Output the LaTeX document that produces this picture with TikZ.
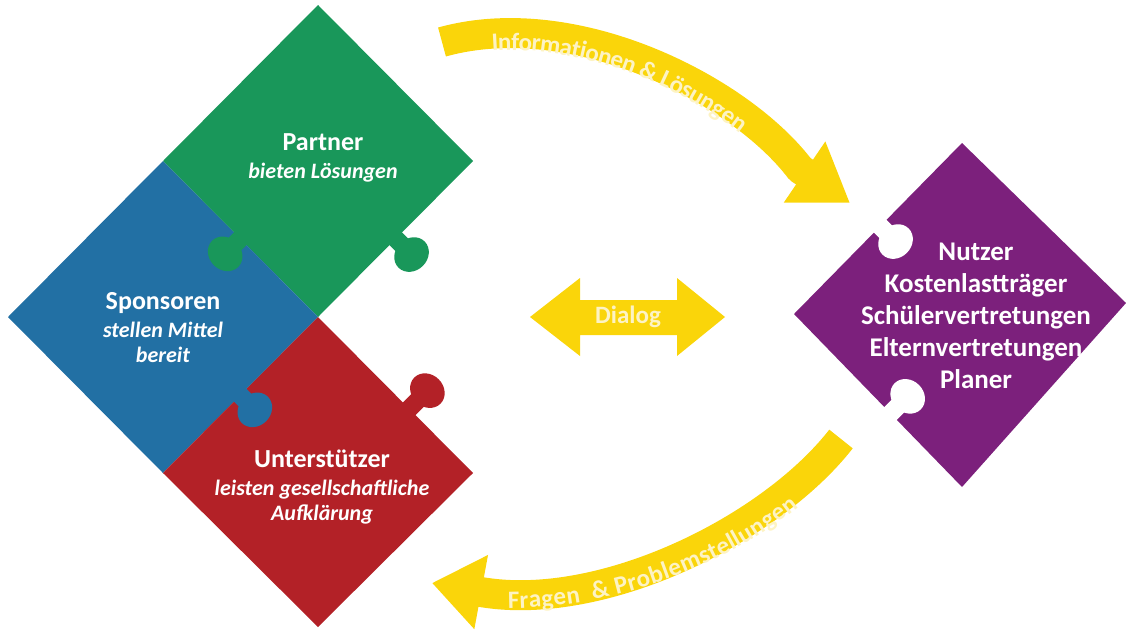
\documentclass[tikz,border=0pt]{standalone}
\usepackage{fontspec}
\setmainfont{Carlito}
\usepackage{xcolor}
\usepackage{tikz}
\usetikzlibrary{positioning}
\usetikzlibrary{arrows.meta, decorations.text}

\definecolor{partnergreen}{RGB}{25,151,90}
\definecolor{sponsorblue}{RGB}{34,112,164}
\definecolor{helperred}{RGB}{179,33,39}
\definecolor{userpurple}{RGB}{124,32,124}
\definecolor{arrowyellow}{RGB}{250,213,10}
\definecolor{arrowtext}{RGB}{253,243,196}

\newcommand{\arrowfont}{\bfseries\fontsize{25}{25}\selectfont}
% knob of a puzzle piece: edge point, direction, colour, distance of the head
\newcommand{\knob}[4]{%
  \begin{scope}[shift={#1}, rotate=#2]
    \fill[#3] (-3pt,-9pt) rectangle (#4pt-8pt,9pt);
    \fill[#3] (#4pt,0) ellipse [x radius=16pt, y radius=18.5pt];
  \end{scope}}

\begin{document}
\begin{tikzpicture}[x=1pt, y=-1pt, title/.style={text=white, font=\bfseries\fontsize{22}{25}\selectfont, align=center, inner sep=0pt}, usertext/.style={text=white, font=\bfseries\fontsize{27}{32}\selectfont, align=center, inner sep=0pt}, bigarrow/.style={arrowyellow, line width=30pt, line join=round}, arrowlabel/.style={decorate, decoration={text along path, text color=arrowtext, raise=-17pt}}]

    \useasboundingbox (0,0) rectangle (1126,629);

    %Puzzle pieces
    \fill[partnergreen] (318,5) -- (473,161) -- (318,317) -- (163,161) -- cycle;
    \fill[sponsorblue] (163,161) -- (318,317) -- (163,473) -- (8,317) -- cycle;
    \fill[helperred] (318,317) -- (473,473) -- (318,627) -- (163,473) -- cycle;
    \knob{(240,239)}{225}{partnergreen}{21}
    \knob{(396,239)}{-45}{partnergreen}{22}
    \knob{(240,395)}{-45}{sponsorblue}{21}
    \knob{(409,409)}{45}{helperred}{26}
    \fill[userpurple] (962,143) -- (1126,303) -- (962,487) -- (794,314) -- cycle;
    \knob{(880,226)}{-45}{white}{22}
    \knob{(890,414)}{45}{white}{25}

    %Nodes
    \node[title](partner) at (323,158) {{\fontsize{26}{26}\selectfont Partner}\\[3pt]\textit{bieten Lösungen}};
    \node[title](sponsoren) at (163,328) {{\fontsize{26}{26}\selectfont Sponsoren}\\[3pt]\textit{stellen Mittel}\\\textit{bereit}};
    \node[title](unterstuetzer) at (322,487) {{\fontsize{26}{26}\selectfont Unterstützer}\\[3pt]\textit{leisten gesellschaftliche}\\\textit{Aufklärung}};
    \node[usertext](nutzer) at (976,316) {Nutzer\\Kostenlastträger\\Schülervertretungen\\Elternvertretungen\\Planer};

    %Arrows
    \coordinate (infoTail) at (442,42);
    \coordinate (infoBase) at (800,169);
    \coordinate (infoTip) at (850,203);
    \coordinate (fragenTail) at (841,439);
    \coordinate (fragenTip) at (432,583);
    \draw[bigarrow, -{Triangle[length=55pt, width=70pt]}] (infoTail) .. controls (575,5) and (740,90) .. (infoBase) -- (infoTip);
    \draw[bigarrow, -{Triangle[length=50pt, width=72pt]}] (fragenTail) .. controls (770,530) and (600,614) .. (fragenTip);
    {\arrowfont
    \path[arrowlabel, decoration={text={Informationen {\&} Lösungen}, text align={left, left indent=50pt}}] (infoTail) .. controls (575,5) and (740,90) .. (infoBase);
    \path[arrowlabel, decoration={text={Fragen {\ }{\&} Problemstellungen}, text align={left, left indent=76pt}, raise=-19pt}] (fragenTip) .. controls (600,614) and (770,530) .. (fragenTail);
    }

    %Dialog
    \fill[arrowyellow] (530,317) -- (580,278) -- (580,300) -- (677,300) -- (677,278) -- (725,317) -- (677,356) -- (677,335) -- (580,335) -- (580,356) -- cycle;
    \node[text=arrowtext, font=\arrowfont, inner sep=0pt](dialog) at (628,317) {Dialog};

\end{tikzpicture}
\end{document}
